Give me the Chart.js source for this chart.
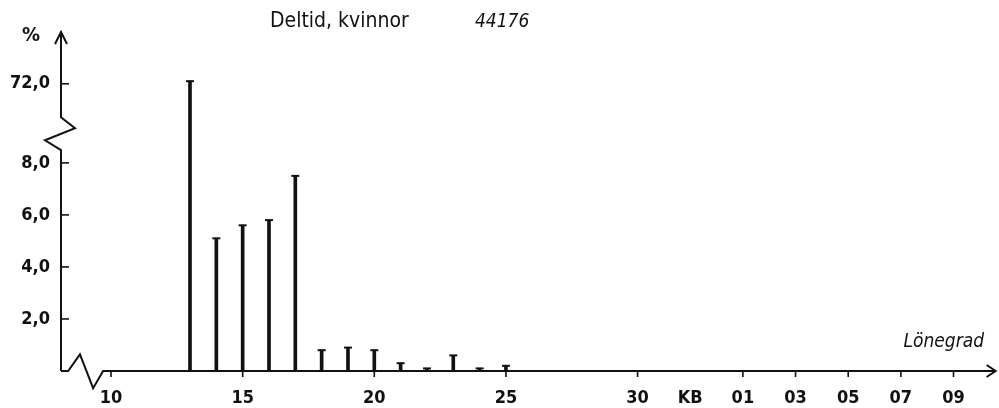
<!DOCTYPE html>
<html>
<head>
<meta charset="utf-8">
<script src="https://cdn.jsdelivr.net/npm/chart.js@4.4.1/dist/chart.umd.min.js"></script>
<style>
  body { margin: 0; background: #fff; }
  #wrap { width: 999px; height: 408px; position: relative; }
</style>
</head>
<body>
<div id="wrap"><canvas id="chart"></canvas></div>
<script>
// Lönegrad (position on axis) and share of part-time women, %
const grades = [13, 14, 15, 16, 17, 18, 19, 20, 21, 22, 23, 24, 25];
const shares = [72.1, 5.1, 5.6, 5.8, 7.5, 0.8, 0.9, 0.8, 0.3, 0.1, 0.6, 0.1, 0.2];

const xTickPos = [10, 15, 20, 25, 30, 32, 34, 36, 38, 40, 42];
const xTickLabels = ['10', '15', '20', '25', '30', 'KB', '01', '03', '05', '07', '09'];

const yTickValues = [2, 4, 6, 8, 72];
const yTickLabels = ['2,0', '4,0', '6,0', '8,0', '72,0'];

const titleText = 'Deltid, kvinnor';
const countText = '44176';

// broken y axis: values above the break are shifted down
const BREAK_VALUE = 72.0;
const BREAK_POS = 11.04;
function toAxis(v) {
  return v > 20 ? BREAK_POS + (v - BREAK_VALUE) : v;
}

const INK = '#111';
const FONT = '"DejaVu Sans Condensed", "DejaVu Sans", sans-serif';

const axisDecor = {
  id: 'axisDecor',
  afterDraw(chart) {
    const ctx = chart.ctx;
    const x = chart.scales.x, y = chart.scales.y;
    const area = chart.chartArea;
    const left = area.left, base = y.getPixelForValue(0);
    ctx.save();
    ctx.strokeStyle = INK;
    ctx.fillStyle = INK;
    ctx.lineWidth = 2;
    ctx.lineJoin = 'miter';

    // y axis with break
    ctx.beginPath();
    ctx.moveTo(left, base);
    ctx.lineTo(left, y.getPixelForValue(8.49));
    ctx.lineTo(left - 16, y.getPixelForValue(8.87));
    ctx.lineTo(left + 14, y.getPixelForValue(9.33));
    ctx.lineTo(left, y.getPixelForValue(9.75));
    ctx.lineTo(left, area.top);
    ctx.stroke();
    // y arrow
    ctx.beginPath();
    ctx.moveTo(left - 6, area.top + 12);
    ctx.lineTo(left, area.top);
    ctx.lineTo(left + 6, area.top + 12);
    ctx.stroke();

    // x axis with break
    ctx.beginPath();
    ctx.moveTo(left, base);
    ctx.lineTo(x.getPixelForValue(8.37), base);
    ctx.lineTo(x.getPixelForValue(8.82), y.getPixelForValue(0.64));
    ctx.lineTo(x.getPixelForValue(9.32), y.getPixelForValue(-0.66));
    ctx.lineTo(x.getPixelForValue(9.70), base);
    const tipX = x.getPixelForValue(43.6);
    ctx.lineTo(tipX, base);
    ctx.stroke();
    ctx.beginPath();
    ctx.moveTo(tipX - 9, base - 6);
    ctx.lineTo(tipX, base);
    ctx.lineTo(tipX - 9, base + 6);
    ctx.stroke();

    // tick marks
    ctx.lineWidth = 1.6;
    yTickValues.forEach(v => {
      const py = y.getPixelForValue(toAxis(v));
      ctx.beginPath();
      ctx.moveTo(left, py);
      ctx.lineTo(left + 8, py);
      ctx.stroke();
    });
    xTickPos.forEach((p, i) => {
      if (xTickLabels[i] === 'KB') return;
      const px = x.getPixelForValue(p);
      ctx.beginPath();
      ctx.moveTo(px, base - 1);
      ctx.lineTo(px, base + 6);
      ctx.stroke();
    });

    // texts
    ctx.textBaseline = 'middle';
    ctx.textAlign = 'left';
    ctx.font = 'bold 20px ' + FONT;
    ctx.fillText('%', 22, 36);
    ctx.font = '21px ' + FONT;
    ctx.fillText(titleText, 270, 22);
    ctx.font = 'italic 19px ' + FONT;
    ctx.fillText(countText, 475, 22);
    ctx.textAlign = 'right';
    ctx.fillText('Lönegrad', 984, base - 29);
    ctx.restore();
  }
};

new Chart(document.getElementById('chart'), {
  type: 'bar',
  data: {
    datasets: [
      {
        type: 'bar',
        data: grades.map((g, i) => ({ x: g, y: toAxis(shares[i]) })),
        backgroundColor: INK,
        borderWidth: 0,
        barThickness: 3
      },
      {
        type: 'scatter',
        data: grades.map((g, i) => ({ x: g, y: toAxis(shares[i]) })),
        pointStyle: 'line',
        pointRadius: 4,
        borderColor: INK,
        borderWidth: 2
      }
    ]
  },
  options: {
    responsive: true,
    maintainAspectRatio: false,
    animation: false,
    layout: { padding: { top: 32, left: 0, right: 0, bottom: 0 } },
    plugins: { legend: { display: false }, tooltip: { enabled: false } },
    scales: {
      x: {
        type: 'linear',
        offset: false,
        min: 8.1,
        max: 43.5,
        grid: { display: false, offset: false },
        border: { display: false },
        afterBuildTicks(scale) {
          scale.ticks = xTickPos.map(v => ({ value: v }));
        },
        afterFit(scale) { scale.height = 37; },
        ticks: {
          autoSkip: false,
          maxRotation: 0,
          padding: 9,
          color: INK,
          font: { family: FONT, size: 18, weight: 'bold' },
          callback: (v, i) => xTickLabels[i]
        }
      },
      y: {
        min: 0,
        max: 13.03,
        grid: { display: false },
        border: { display: false },
        afterBuildTicks(scale) {
          scale.ticks = yTickValues.map(v => ({ value: toAxis(v) }));
        },
        afterFit(scale) { scale.width = 61; },
        ticks: {
          padding: 3,
          color: INK,
          font: { family: FONT, size: 18, weight: 'bold' },
          callback: (v, i) => yTickLabels[i]
        }
      }
    }
  },
  plugins: [axisDecor]
});
</script>
</body>
</html>
